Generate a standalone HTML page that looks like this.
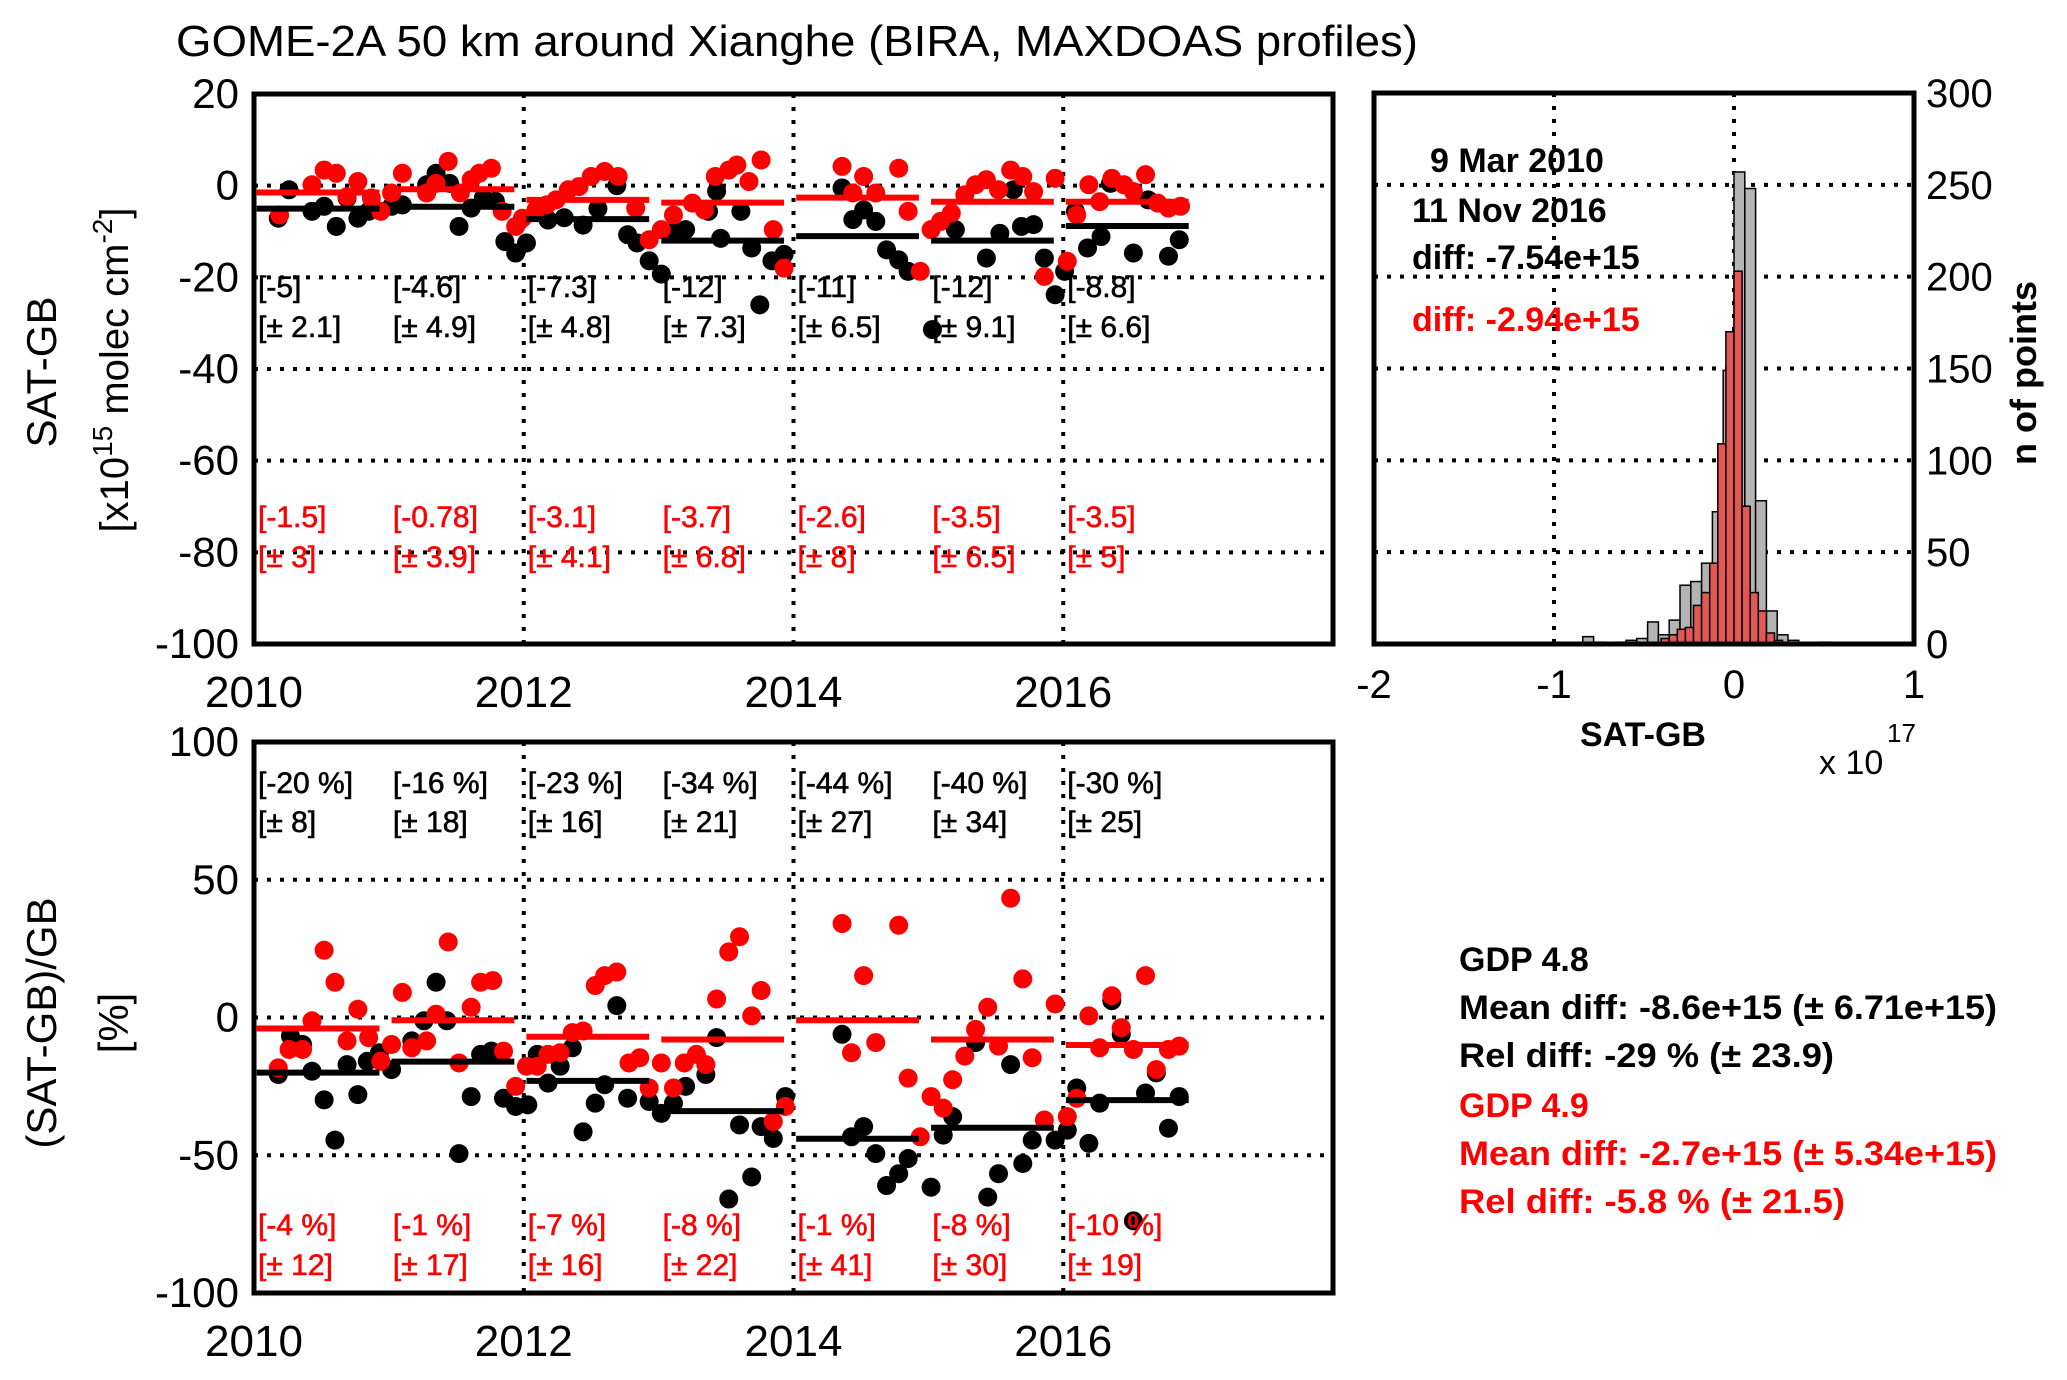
<!DOCTYPE html>
<html><head><meta charset="utf-8"><style>
html,body{margin:0;padding:0;background:#fff;}
svg{display:block;font-family:"Liberation Sans",sans-serif;}
</style></head><body>
<svg id="fig" width="2067" height="1380" viewBox="0 0 2067 1380" xmlns="http://www.w3.org/2000/svg">
<text x="176" y="56" font-size="44" textLength="1242" lengthAdjust="spacingAndGlyphs">GOME-2A 50 km around Xianghe (BIRA, MAXDOAS profiles)</text>
<g id="top"></g>
<g id="bot"></g>
<g id="hist"></g>
<g font-size="34" font-weight="bold">
<text x="1459" y="971">GDP 4.8</text>
<text x="1459" y="1019" textLength="538" lengthAdjust="spacingAndGlyphs">Mean diff: -8.6e+15 (± 6.71e+15)</text>
<text x="1459" y="1067" textLength="375" lengthAdjust="spacingAndGlyphs">Rel diff: -29 % (± 23.9)</text>
<text x="1459" y="1117" fill="#ff0000">GDP 4.9</text>
<text x="1459" y="1165" fill="#ff0000" textLength="538" lengthAdjust="spacingAndGlyphs">Mean diff: -2.7e+15 (± 5.34e+15)</text>
<text x="1459" y="1213" fill="#ff0000" textLength="386" lengthAdjust="spacingAndGlyphs">Rel diff: -5.8 % (± 21.5)</text>
</g>
</svg>
<script>
// ---------- data ----------
const years = [2010,2011,2012,2013,2014,2015,2016];
const topBlackT = [2010.18,2010.26,2010.43,2010.52,2010.61,2010.69,2010.77,2010.85,2011.02,2011.10,2011.28,2011.35,2011.45,2011.52,2011.61,2011.70,2011.79,2011.86,2011.94,2012.02,2012.18,2012.30,2012.44,2012.55,2012.69,2012.77,2012.84,2012.93,2013.02,2013.11,2013.20,2013.37,2013.43,2013.46,2013.61,2013.69,2013.75,2013.84,2013.93,2014.36,2014.44,2014.52,2014.61,2014.69,2014.78,2014.85,2015.03,2015.20,2015.43,2015.53,2015.63,2015.69,2015.78,2015.86,2015.94,2016.01,2016.09,2016.18,2016.28,2016.35,2016.52,2016.63,2016.78,2016.86];
const topBlackV = [-7.1,-0.9,-5.6,-4.5,-8.9,-2.7,-7.1,-5.6,-4.5,-4.2,0.2,2.7,0.5,-8.9,-4.9,-2.7,-3.4,-12.2,-14.7,-12.5,-7.5,-7,-8.6,-5,0,-10.7,-12.5,-16.4,-19.3,-10,-9.6,-5.6,-1.2,-11.5,-5.6,-13.6,-26,-16.4,-15,-0.5,-7.4,-5.3,-7.8,-14,-16.2,-18.7,-31.4,-9.6,-15.8,-10.4,-0.9,-8.9,-8.5,-15.8,-23.8,-18.7,-5.6,-13.6,-11.1,0.5,-14.7,-3.1,-15.4,-11.8];
const topRedT = [2010.19,2010.43,2010.52,2010.61,2010.69,2010.77,2010.87,2010.94,2011.02,2011.10,2011.28,2011.35,2011.44,2011.53,2011.61,2011.67,2011.76,2011.84,2011.94,2011.99,2012.09,2012.17,2012.24,2012.33,2012.41,2012.50,2012.60,2012.70,2012.83,2012.93,2013.02,2013.11,2013.25,2013.34,2013.42,2013.52,2013.58,2013.67,2013.76,2013.85,2013.93,2014.36,2014.44,2014.52,2014.61,2014.78,2014.85,2014.94,2015.02,2015.09,2015.17,2015.27,2015.35,2015.43,2015.52,2015.61,2015.70,2015.78,2015.86,2015.94,2016.03,2016.10,2016.19,2016.27,2016.36,2016.45,2016.52,2016.61,2016.70,2016.78,2016.87];
const topRedV = [-6.4,0.2,3.4,2.7,-2.4,0.9,-2.7,-5.6,-1.6,2.7,-1.6,0.5,5.3,-1.6,1.3,2.7,3.8,-5.6,-8.9,-7.1,-5.3,-4.2,-3.1,-0.9,-0.2,2,3.1,2,-4.9,-11.8,-9.6,-6.4,-3.8,-5.3,2,3.4,4.5,0.9,5.6,-9.6,-18,4.2,-1.6,2,-1.6,3.8,-5.6,-18.7,-9.6,-7.8,-6,-2,0.2,1.3,-0.9,3.4,2,-1.3,-19.8,1.6,-16.5,-6.4,0.2,-3.5,1.6,0.2,-1.3,2.4,-3.8,-4.9,-4.5];
const topBlackMean = [-5,-4.6,-7.3,-12,-11,-12,-8.8];
const topBlackStd = ['2.1','4.9','4.8','7.3','6.5','9.1','6.6'];
const topBlackMeanLbl = ['-5','-4.6','-7.3','-12','-11','-12','-8.8'];
const topRedMean = [-1.5,-0.78,-3.1,-3.7,-2.6,-3.5,-3.5];
const topRedMeanLbl = ['-1.5','-0.78','-3.1','-3.7','-2.6','-3.5','-3.5'];
const topRedStd = ['3','3.9','4.1','6.8','8','6.5','5'];
const topYTicks = [20,0,-20,-40,-60,-80,-100];

const botBlackT = [2010.18,2010.27,2010.36,2010.43,2010.52,2010.60,2010.69,2010.77,2010.84,2010.93,2011.02,2011.17,2011.26,2011.35,2011.43,2011.52,2011.61,2011.68,2011.76,2011.85,2011.94,2012.03,2012.10,2012.18,2012.27,2012.36,2012.44,2012.53,2012.60,2012.69,2012.77,2012.93,2013.02,2013.11,2013.20,2013.35,2013.43,2013.52,2013.60,2013.69,2013.76,2013.85,2013.94,2014.36,2014.43,2014.52,2014.61,2014.69,2014.78,2014.85,2015.02,2015.11,2015.18,2015.35,2015.44,2015.52,2015.61,2015.70,2015.77,2015.94,2016.03,2016.10,2016.19,2016.27,2016.36,2016.43,2016.52,2016.61,2016.69,2016.78,2016.86];
const botBlackV = [-20.7,-6.7,-9.8,-19.5,-29.9,-44.5,-17.1,-28,-15.9,-12.8,-18.9,-8.5,-1.2,12.8,-1.2,-49.4,-28.7,-13.4,-12.2,-29.3,-32.3,-31.7,-13.4,-23.8,-17.7,-11,-41.5,-31.1,-24.4,4.3,-29.3,-30.5,-34.8,-31.1,-25,-20.7,-7.3,-65.9,-39,-57.9,-39.6,-43.9,-28.7,-6.1,-43.3,-39.6,-49.4,-61,-56.7,-51.2,-61.6,-42.7,-36,-9.1,-65.2,-56.7,-17.1,-53,-44.5,-44.5,-40.9,-25.6,-45.7,-31.1,6.1,-6.1,-73.8,-27.4,-20.1,-40.2,-28.7];
const botRedT = [2010.18,2010.26,2010.36,2010.43,2010.52,2010.60,2010.69,2010.77,2010.85,2010.94,2011.02,2011.10,2011.17,2011.28,2011.35,2011.44,2011.52,2011.61,2011.68,2011.77,2011.85,2011.94,2012.02,2012.10,2012.18,2012.27,2012.36,2012.44,2012.53,2012.60,2012.69,2012.78,2012.86,2012.93,2013.02,2013.11,2013.19,2013.28,2013.35,2013.43,2013.52,2013.60,2013.69,2013.76,2013.85,2013.94,2014.36,2014.43,2014.52,2014.61,2014.78,2014.85,2014.94,2015.02,2015.11,2015.18,2015.27,2015.35,2015.44,2015.52,2015.61,2015.70,2015.77,2015.86,2015.94,2016.03,2016.10,2016.19,2016.27,2016.36,2016.43,2016.52,2016.61,2016.69,2016.78,2016.86];
const botRedV = [-18.3,-11.6,-11.6,-1.2,24.4,12.8,-8.5,3,-7.3,-15.9,-9.8,9.1,-11,-8.5,1.2,27.4,-16.5,3.7,12.8,13.4,-12.2,-25,-17.7,-17.7,-13.4,-12.8,-5.5,-4.9,11.6,15.2,16.5,-16.5,-14.6,-25.6,-16.5,-25.6,-16.5,-13.4,-17.1,6.7,23.8,29.3,0.6,9.8,-37.8,-32.3,34.1,-12.8,15.2,-9.1,33.5,-22,-43.3,-28.7,-32.9,-22.6,-14,-4.3,3.7,-10.4,43.3,14,-14.6,-37.2,4.9,-36,-29.3,0.6,-11,7.9,-3.7,-11.6,15.2,-18.9,-11.6,-10.4];
const botBlackMean = [-20,-16,-23,-34,-44,-40,-30];
const botBlackStd = ['8','18','16','21','27','34','25'];
const botRedMean = [-4,-1,-7,-8,-1,-8,-10];
const botRedStd = ['12','17','16','22','41','30','19'];
const botYTicks = [100,50,0,-50,-100];

const xTicks = [2010,2012,2014,2016];

const grayStart = -0.84, grayWidth = 0.06;
const grayCounts = [4,1,0,1,2,3,12,5,13,32,34,44,72,149,257,248,78,18,5,2,0,0,1];
const redStart = -0.405, redWidth = 0.045;
const redCounts = [3,5,8,9,21,28,44,109,170,203,75,28,18,6,2];
const histXTicks = [-2,-1,0,1];
const histYTicks = [0,50,100,150,200,250,300];

// ---------- helpers ----------
const NS = 'http://www.w3.org/2000/svg';
function mk(parent, tag, attrs, text){
  const e = document.createElementNS(NS, tag);
  for (const k in attrs) e.setAttribute(k, attrs[k]);
  if (text !== undefined) e.textContent = text;
  parent.appendChild(e);
  return e;
}
const X0 = 254, X1 = 1333;
const xs = t => X0 + (t - 2010) / 8 * (X1 - X0);

function panel(g, top, bottom, ymin, ymax, yTicks){
  const ys = v => bottom - (v - ymin) / (ymax - ymin) * (bottom - top);
  yTicks.forEach(v => {
    if (v === ymin || v === ymax) return;
    const l = mk(g, 'line', {x1:X0, x2:X1, y1:ys(v), y2:ys(v), stroke:'#000', 'stroke-width':4, 'stroke-dasharray':'4 9'});
    
    
  });
  xTicks.forEach(t => {
    if (t === 2010) return;
    const l = mk(g, 'line', {x1:xs(t), x2:xs(t), y1:top, y2:bottom, stroke:'#000', 'stroke-width':4, 'stroke-dasharray':'4 9'});
    
    
  });
  yTicks.forEach(v => {
    const t = mk(g, 'text', {x:239, y:ys(v)+14, 'font-size':42, 'text-anchor':'end'}, String(v));
    
    
  });
  return ys;
}
function frame(g, x0, y0, x1, y1){
  const r = mk(g, 'rect', {x:x0, y:y0, width:x1-x0, height:y1-y0, fill:'none', stroke:'#000', 'stroke-width':5});
  
  
}
function dots(g, T, V, ys, color, name){
  T.forEach((t, i) => {
    const c = mk(g, 'circle', {cx:xs(t), cy:ys(V[i]), r:9.5, fill:color});
    
    
  });
}
function means(g, M, ys, color, name){
  years.forEach((y, i) => {
    const l = mk(g, 'line', {x1:xs(y+0.02), x2:xs(y+0.93), y1:ys(M[i]), y2:ys(M[i]), stroke:color, 'stroke-width':6});
    
    
  });
}
function labels(g, arr, yb, color, name){
  years.forEach((y, i) => {
    const t = mk(g, 'text', {x:xs(y)+4, y:yb, 'font-size':30, fill:color, stroke:color, 'stroke-width':0.6}, arr[i]);
    
    
  });
}
function xLabels(g, yb){
  xTicks.forEach(t => {
    const e = mk(g, 'text', {x:xs(t), y:yb, 'font-size':44, 'text-anchor':'middle'}, String(t));
    
    
  });
}

// ---------- top panel ----------
const gt = document.getElementById('top');
const ysT = panel(gt, 94, 644, -100, 20, topYTicks);
dots(gt, topBlackT, topBlackV, ysT, '#000', 'gdp48-diff-point');
dots(gt, topRedT, topRedV, ysT, '#ff0000', 'gdp49-diff-point');
means(gt, topBlackMean, ysT, '#000', 'gdp48-annual-mean');
means(gt, topRedMean, ysT, '#ff0000', 'gdp49-annual-mean');
labels(gt, topBlackMeanLbl.map(s => '[' + s + ']'), 297, '#000', 'gdp48-annual-mean-label');
labels(gt, topBlackStd.map(s => '[± ' + s + ']'), 337, '#000', 'gdp48-annual-std-label');
labels(gt, topRedMeanLbl.map(s => '[' + s + ']'), 527, '#ff0000', 'gdp49-annual-mean-label');
labels(gt, topRedStd.map(s => '[± ' + s + ']'), 567, '#ff0000', 'gdp49-annual-std-label');
frame(gt, X0, 94, X1, 644);
xLabels(gt, 707);
{
  const a = mk(gt, 'text', {transform:'translate(56,372) rotate(-90)', 'font-size':42, 'text-anchor':'middle'}, 'SAT-GB');
  
  
  const b = mk(gt, 'text', {transform:'translate(128,370) rotate(-90)', 'font-size':40, 'text-anchor':'middle'});
  
  
  mk(b, 'tspan', {}, '[x10');
  mk(b, 'tspan', {dy:-16, 'font-size':28}, '15');
  mk(b, 'tspan', {dy:16}, ' molec cm');
  mk(b, 'tspan', {dy:-16, 'font-size':28}, '-2');
  mk(b, 'tspan', {dy:16}, ']');
}

// ---------- bottom panel ----------
const gb = document.getElementById('bot');
const ysB = panel(gb, 742, 1293, -100, 100, botYTicks);
dots(gb, botBlackT, botBlackV, ysB, '#000', 'gdp48-reldiff-point');
dots(gb, botRedT, botRedV, ysB, '#ff0000', 'gdp49-reldiff-point');
means(gb, botBlackMean, ysB, '#000', 'gdp48-annual-rel-mean');
means(gb, botRedMean, ysB, '#ff0000', 'gdp49-annual-rel-mean');
labels(gb, botBlackMean.map(s => '[' + s + ' %]'), 793, '#000', 'gdp48-annual-rel-mean-label');
labels(gb, botBlackStd.map(s => '[± ' + s + ']'), 832, '#000', 'gdp48-annual-rel-std-label');
labels(gb, botRedMean.map(s => '[' + s + ' %]'), 1235, '#ff0000', 'gdp49-annual-rel-mean-label');
labels(gb, botRedStd.map(s => '[± ' + s + ']'), 1275, '#ff0000', 'gdp49-annual-rel-std-label');
frame(gb, X0, 742, X1, 1293);
xLabels(gb, 1356);
{
  const a = mk(gb, 'text', {transform:'translate(56,1023) rotate(-90)', 'font-size':42, 'text-anchor':'middle'}, '(SAT-GB)/GB');
  
  
  const b = mk(gb, 'text', {transform:'translate(128,1023) rotate(-90)', 'font-size':42, 'text-anchor':'middle'}, '[%]');
  
  
}

// ---------- histogram ----------
const gh = document.getElementById('hist');
const HX0 = 1374, HX1 = 1914, HY0 = 93, HY1 = 644;
const hx = v => HX0 + (v + 2) / 3 * (HX1 - HX0);
const hy = c => HY1 - c / 300 * (HY1 - HY0);
histYTicks.forEach(c => {
  if (c !== 0 && c !== 300) {
    const l = mk(gh, 'line', {x1:HX0, x2:HX1, y1:hy(c), y2:hy(c), stroke:'#000', 'stroke-width':4, 'stroke-dasharray':'4 9'});
    
    
  }
  const t = mk(gh, 'text', {x:1926, y:hy(c)+14, 'font-size':40}, String(c));
  
  
});
histXTicks.forEach(v => {
  if (v !== -2 && v !== 1) {
    const l = mk(gh, 'line', {x1:hx(v), x2:hx(v), y1:HY0, y2:HY1, stroke:'#000', 'stroke-width':4, 'stroke-dasharray':'4 9'});
    
    
  }
  const t = mk(gh, 'text', {x:hx(v), y:698, 'font-size':40, 'text-anchor':'middle'}, String(v));
  
  
});
grayCounts.forEach((c, i) => {
  if (!c) return;
  const a = grayStart + i * grayWidth;
  const r = mk(gh, 'rect', {x:hx(a), y:hy(c), width:hx(a+grayWidth)-hx(a), height:hy(0)-hy(c), fill:'#b4b4b4', stroke:'#000', 'stroke-width':1.5});
  
  
});
redCounts.forEach((c, i) => {
  if (!c) return;
  const a = redStart + i * redWidth;
  const r = mk(gh, 'rect', {x:hx(a), y:hy(c), width:hx(a+redWidth)-hx(a), height:hy(0)-hy(c), fill:'#e35757', stroke:'#000', 'stroke-width':1.5});
  
  
});
frame(gh, HX0, HY0, HX1, HY1);
[['9 Mar 2010',1430,172,'#000','hist-start-date'],['11 Nov 2016',1412,222,'#000','hist-end-date'],['diff: -7.54e+15',1412,269,'#000','hist-diff-gdp48'],['diff: -2.94e+15',1412,331,'#ff0000','hist-diff-gdp49']].forEach(d => {
  const t = mk(gh, 'text', {x:d[1], y:d[2], 'font-size':34, 'font-weight':'bold', fill:d[3]}, d[0]);
  
  
});
{
  const t = mk(gh, 'text', {x:1643, y:746, 'font-size':34, 'font-weight':'bold', 'text-anchor':'middle'}, 'SAT-GB');
  
  
  const e = mk(gh, 'text', {x:1819, y:774, 'font-size':34}, 'x 10');
  
  
  const s = mk(gh, 'text', {x:1887, y:742, 'font-size':26}, '17');
  
  
  const n = mk(gh, 'text', {transform:'translate(2036,373) rotate(-90)', 'font-size':36, 'font-weight':'bold', 'text-anchor':'middle'}, 'n of points');
  
  
}
</script>
</body></html>
